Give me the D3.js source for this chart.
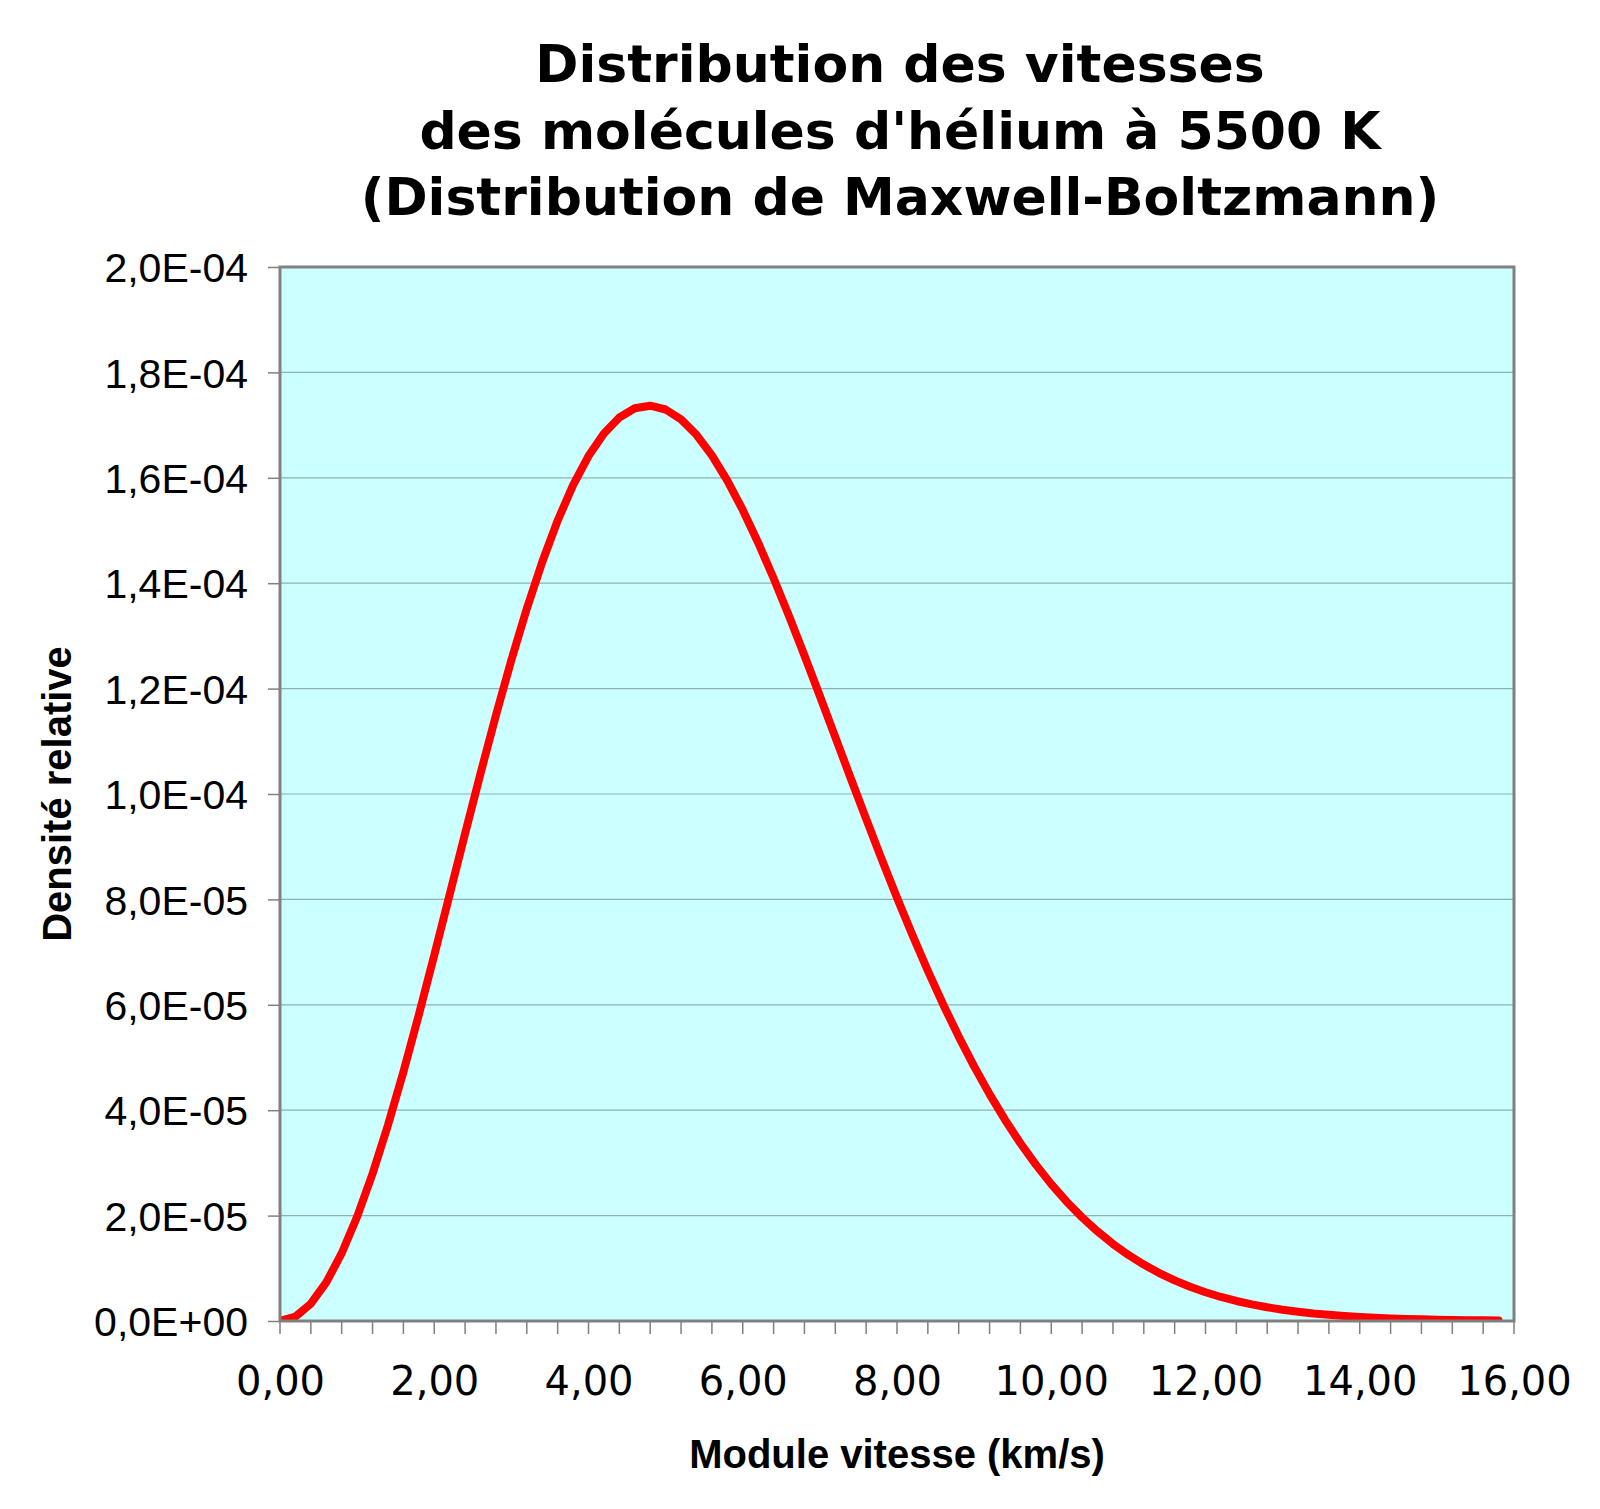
<!DOCTYPE html>
<html>
<head>
<meta charset="utf-8">
<script src="https://cdn.jsdelivr.net/npm/d3@7"></script>
<style>
html,body{margin:0;padding:0;background:#fff;}
svg{display:block;}
</style>
</head>
<body>
<svg id="chart" width="1600" height="1509"></svg>
<script>
const titleLines = ["Distribution des vitesses", "des molécules d'hélium à 5500 K", "(Distribution de Maxwell-Boltzmann)"];
const xTitle = "Module vitesse (km/s)";
const yTitle = "Densité relative";

const speeds = [0.0,0.2,0.4,0.6,0.8,1.0,1.2,1.4,1.6,1.8,2.0,2.2,2.4,2.6,2.8,3.0,3.2,3.4,3.6,3.8,
  4.0,4.2,4.4,4.6,4.8,5.0,5.2,5.4,5.6,5.8,6.0,6.2,6.4,6.6,6.8,7.0,7.2,7.4,7.6,7.8,
  8.0,8.2,8.4,8.6,8.8,9.0,9.2,9.4,9.6,9.8,10.0,10.2,10.4,10.6,10.8,11.0,11.2,11.4,11.6,11.8,
  12.0,12.2,12.4,12.6,12.8,13.0,13.2,13.4,13.6,13.8,14.0,14.2,14.4,14.6,14.8,15.0,15.2,15.4,15.6,15.8];
const density = [0, 8.25e-7, 3.28e-6, 7.32e-6, 1.286e-5, 1.978e-5, 2.794e-5, 3.717e-5, 4.729e-5, 5.810e-5,
  6.938e-5, 8.092e-5, 9.250e-5, 1.0391e-4, 1.1494e-4, 1.2542e-4, 1.3516e-4, 1.4402e-4, 1.5187e-4, 1.5860e-4,
  1.6413e-4, 1.6842e-4, 1.7144e-4, 1.7319e-4, 1.7368e-4, 1.7296e-4, 1.7109e-4, 1.6816e-4, 1.6425e-4, 1.5947e-4,
  1.5390e-4, 1.4769e-4, 1.4094e-4, 1.3377e-4, 1.2627e-4, 1.1859e-4, 1.1080e-4, 1.0299e-4, 9.528e-5, 8.770e-5,
  8.033e-5, 7.323e-5, 6.646e-5, 6.003e-5, 5.397e-5, 4.832e-5, 4.304e-5, 3.820e-5, 3.373e-5, 2.967e-5,
  2.597e-5, 2.264e-5, 1.966e-5, 1.699e-5, 1.463e-5, 1.253e-5, 1.070e-5, 9.10e-6, 7.70e-6, 6.49e-6,
  5.45e-6, 4.56e-6, 3.80e-6, 3.15e-6, 2.60e-6, 2.14e-6, 1.76e-6, 1.43e-6, 1.17e-6, 9.4e-7,
  7.6e-7, 6.1e-7, 4.9e-7, 3.9e-7, 3.1e-7, 2.5e-7, 1.9e-7, 1.5e-7, 1.2e-7, 9e-8];

const xTicks = [0,2,4,6,8,10,12,14,16];
const xMinorTicks = [0,0.4,0.8,1.2,1.6,2,2.4,2.8,3.2,3.6,4,4.4,4.8,5.2,5.6,6,6.4,6.8,7.2,7.6,8,8.4,8.8,9.2,9.6,10,10.4,10.8,11.2,11.6,12,12.4,12.8,13.2,13.6,14,14.4,14.8,15.2,15.6,16];
const yTicks = [0,2e-5,4e-5,6e-5,8e-5,1e-4,1.2e-4,1.4e-4,1.6e-4,1.8e-4,2e-4];
const xTickLabels = ["0,00","2,00","4,00","6,00","8,00","10,00","12,00","14,00","16,00"];
const yTickLabels = ["0,0E+00","2,0E-05","4,0E-05","6,0E-05","8,0E-05","1,0E-04","1,2E-04","1,4E-04","1,6E-04","1,8E-04","2,0E-04"];

const svg = d3.select("#chart");
const L = 280, R = 1514, T = 267, B = 1321;

const x = d3.scaleLinear().domain([0,16]).range([L,R]);
const y = d3.scaleLinear().domain([0,2e-4]).range([B,T]);

// plot background
svg.append("rect").attr("x",L).attr("y",T).attr("width",R-L).attr("height",B-T).attr("fill","#CCFFFF");

// gridlines
svg.append("g").selectAll("line").data(yTicks.slice(1,-1)).join("line")
  .attr("x1",L).attr("x2",R).attr("y1",d=>y(d)).attr("y2",d=>y(d))
  .attr("stroke","#8fb0b0").attr("stroke-width",1.2);

// y axis
const yAxis = d3.axisLeft(y).tickValues(yTicks).tickSize(12).tickPadding(20)
  .tickFormat((d,i)=>yTickLabels[i]);
const gy = svg.append("g").attr("transform",`translate(${L},0)`).call(yAxis);
gy.select(".domain").remove();
gy.selectAll(".tick line").attr("stroke","#808080").attr("stroke-width",1.5);
gy.selectAll(".tick text").attr("font-family","'Liberation Sans', Arial, sans-serif")
  .attr("font-size",41).attr("fill","#000").attr("dy","0.36em");

// x axis minor ticks
const gxm = svg.append("g").attr("transform",`translate(0,${B})`);
gxm.selectAll("line").data(xMinorTicks).join("line")
  .attr("x1",d=>x(d)).attr("x2",d=>x(d)).attr("y1",0).attr("y2",13)
  .attr("stroke","#808080").attr("stroke-width",1.5);

// x axis labels
const xAxis = d3.axisBottom(x).tickValues(xTicks).tickSize(0).tickPadding(46)
  .tickFormat((d,i)=>xTickLabels[i]);
const gx = svg.append("g").attr("transform",`translate(0,${B})`).call(xAxis);
gx.select(".domain").remove();
gx.selectAll(".tick text").attr("font-family","'DejaVu Sans', Verdana, sans-serif")
  .attr("font-size",40).attr("fill","#000");

// curve
const line = d3.line().x((d,i)=>x(speeds[i])).y(d=>y(d));
const clipId = "plotclip";
svg.append("defs").append("clipPath").attr("id",clipId).append("rect")
  .attr("x",L).attr("y",T-20).attr("width",R-L+20).attr("height",B-T+20);
svg.append("path").datum(density).attr("d",line)
  .attr("fill","none").attr("stroke","#FF0000").attr("stroke-width",8)
  .attr("stroke-linejoin","round").attr("stroke-linecap","round")
  .attr("clip-path",`url(#${clipId})`);

// border
svg.append("rect").attr("x",L).attr("y",T).attr("width",R-L).attr("height",B-T)
  .attr("fill","none").attr("stroke","#808080").attr("stroke-width",3);

// title
const title = svg.append("text").attr("text-anchor","middle")
  .attr("font-family","'DejaVu Sans', Verdana, sans-serif").attr("font-weight","bold")
  .attr("font-size",52).attr("fill","#000");
titleLines.forEach((t,i)=>{
  title.append("tspan").attr("x",900).attr("y",82+i*66.5).text(t);
});

// axis titles
svg.append("text").attr("x",(L+R)/2).attr("y",1468).attr("text-anchor","middle")
  .attr("font-family","'Liberation Sans', Arial, sans-serif").attr("font-weight","bold")
  .attr("font-size",40).attr("fill","#000").text(xTitle);
svg.append("text").attr("transform",`translate(71,${(T+B)/2}) rotate(-90)`).attr("text-anchor","middle")
  .attr("font-family","'Liberation Sans', Arial, sans-serif").attr("font-weight","bold")
  .attr("font-size",40).attr("fill","#000").text(yTitle);
</script>
</body>
</html>
